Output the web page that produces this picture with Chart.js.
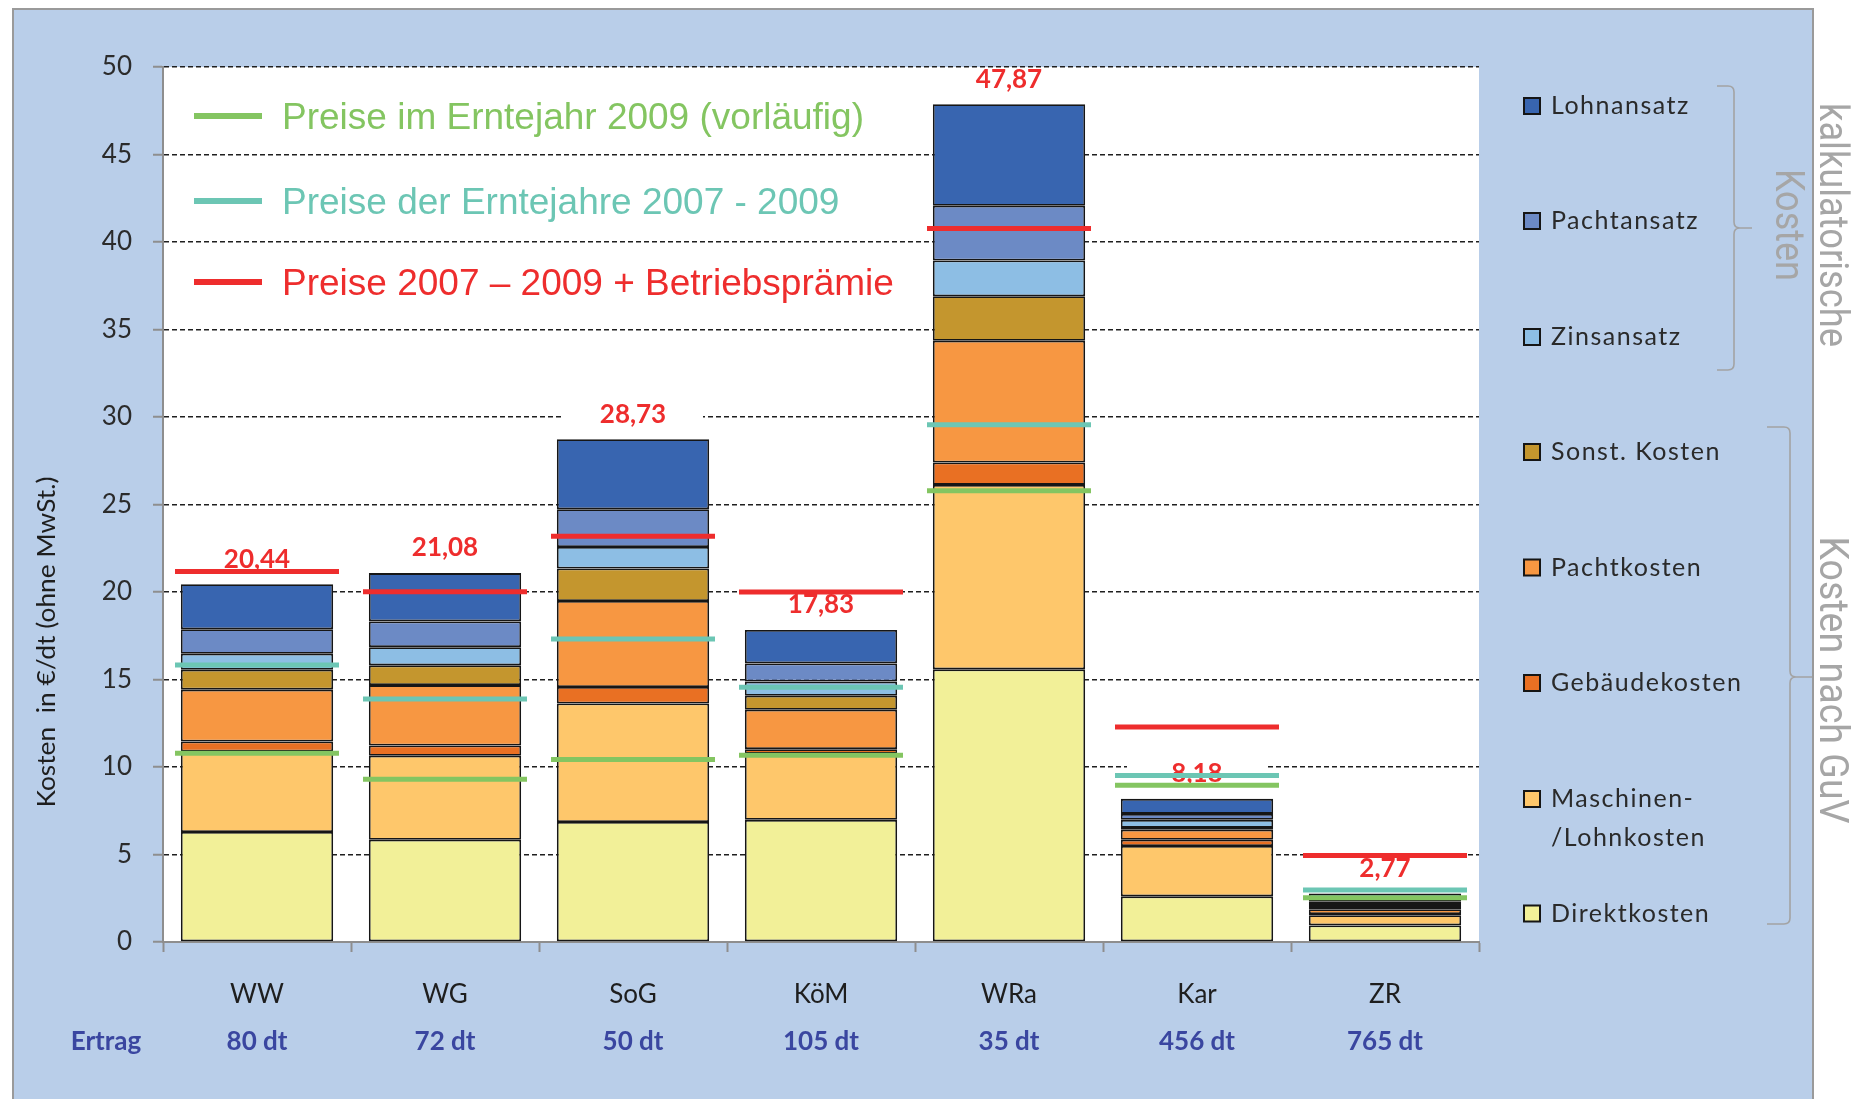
<!DOCTYPE html>
<html>
<head>
<meta charset="utf-8">
<script src="https://cdn.jsdelivr.net/npm/chart.js@4.4.1/dist/chart.umd.min.js"></script>
<style>
html,body{margin:0;padding:0;background:#fff;}
canvas{display:block;}
</style>
</head>
<body>
<canvas id="c" width="1858" height="1099"></canvas>
<script>
// ---------- data ----------
const categories = ['WW', 'WG', 'SoG', 'KöM', 'WRa', 'Kar', 'ZR'];
const ertrag = ['80 dt', '72 dt', '50 dt', '105 dt', '35 dt', '456 dt', '765 dt'];
const ertragTitle = 'Ertrag';

const seriesNames = ['Direktkosten', 'Maschinen-/Lohnkosten', 'Gebäudekosten', 'Pachtkosten',
                     'Sonst. Kosten', 'Zinsansatz', 'Pachtansatz', 'Lohnansatz'];
const direktkosten        = [6.29, 5.84, 6.86, 6.98, 15.58, 2.61, 0.95];
const maschinenLohnkosten = [4.60, 4.80, 6.77, 3.77, 10.54, 2.88, 0.58];
const gebaeudekosten      = [0.57, 0.59, 0.94, 0.27, 1.28, 0.35, 0.07];
const pachtkosten         = [2.96, 3.45, 4.92, 2.25, 6.96, 0.58, 0.27];
const sonstKosten         = [1.14, 1.13, 1.85, 0.80, 2.54, 0.10, 0.19];
const zinsansatz          = [0.91, 1.04, 1.23, 0.81, 2.04, 0.46, 0.17];
const pachtansatz         = [1.40, 1.47, 2.16, 1.04, 3.13, 0.34, 0.10];
const lohnansatz          = [2.57, 2.76, 4.00, 1.91, 5.80, 0.86, 0.44];
const totals              = [20.44, 21.08, 28.73, 17.83, 47.87, 8.18, 2.77];

const priceNames = ['Preise im Erntejahr 2009 (vorläufig)',
                    'Preise der Erntejahre 2007 - 2009',
                    'Preise 2007 – 2009 + Betriebsprämie'];
const preise2009         = [10.79, 9.30, 10.43, 10.67, 25.78, 8.96, 2.53];
const preise2007bis2009  = [15.83, 13.88, 17.31, 14.56, 29.56, 9.51, 2.97];
const preisePlusPraemie  = [21.17, 20.02, 23.19, 20.00, 40.77, 12.28, 4.95];

const yMin = 0, yMax = 50, yStep = 5;
const yTitle = 'Kosten  in €/dt (ohne MwSt.)';
const groupKalk = ['kalkulatorische', 'Kosten'];
const groupGuV = 'Kosten nach GuV';

// ---------- styles ----------
const FONT = 'Lato, "Open Sans", "DejaVu Sans", sans-serif';
const ARIAL = '"Liberation Sans", Arial, sans-serif';
const barColors = ['#f2f098', '#fec76b', '#e97023', '#f79742', '#c4962e', '#8dbee4', '#6c8ac5', '#3865b0'];
const priceColors = ['#84c561', '#6cc6b4', '#ee2d2d'];
const PANEL = '#b9cee9';
const AXISGRAY = '#8e8e8e';
const ERTRAG_COLOR = '#3a46a0';

const barData = [direktkosten, maschinenLohnkosten, gebaeudekosten, pachtkosten,
                 sonstKosten, zinsansatz, pachtansatz, lohnansatz];
const priceData = [preise2009, preise2007bis2009, preisePlusPraemie];

const datasets = barData.map((d, i) => ({
  type: 'bar', label: seriesNames[i], data: d,
  backgroundColor: barColors[i], borderColor: '#161616', borderWidth: 1.8,
  borderSkipped: false, stack: 'kosten', order: 1,
  barPercentage: 1, categoryPercentage: 0.81
}));
priceData.forEach((d, i) => datasets.push({
  type: 'line', label: priceNames[i], data: d, showLine: false,
  pointStyle: 'line', pointRadius: 82, pointHoverRadius: 82,
  pointBorderWidth: 5, pointHoverBorderWidth: 5,
  pointBorderColor: priceColors[i], pointBackgroundColor: priceColors[i],
  borderColor: priceColors[i], backgroundColor: priceColors[i],
  stack: 'preis' + i, order: -1 - i
}));

function setSpacing(ctx, v) { if ('letterSpacing' in ctx) ctx.letterSpacing = v; }

function fitText(ctx, text, cx, cy, angle, font, color, targetLen) {
  ctx.save();
  ctx.font = font;
  ctx.fillStyle = color;
  ctx.textAlign = 'center';
  ctx.textBaseline = 'middle';
  const w = ctx.measureText(text).width;
  ctx.translate(cx, cy);
  ctx.rotate(angle);
  ctx.scale(targetLen / w, 1);
  ctx.fillText(text, 0, 0);
  ctx.restore();
}

const decor = {
  id: 'decor',
  beforeDraw(chart) {
    const {ctx, chartArea: a, width, height} = chart;
    ctx.save();
    ctx.fillStyle = '#ffffff';
    ctx.fillRect(0, 0, width, height);
    ctx.fillStyle = PANEL;
    ctx.fillRect(13, 9, 1800, height);
    ctx.strokeStyle = '#9a9a9a';
    ctx.lineWidth = 2;
    ctx.strokeRect(13, 9, 1800, height + 20);
    ctx.fillStyle = '#ffffff';
    ctx.fillRect(a.left, a.top, a.right - a.left, a.bottom - a.top);
    ctx.restore();
  },
  beforeDatasetsDraw(chart) {
    const {ctx} = chart;
    const xs = chart.scales.x, ys = chart.scales.y;
    ctx.save();
    ctx.font = 'bold 26px ' + FONT;
    ctx.textAlign = 'center';
    ctx.textBaseline = 'middle';
    totals.forEach((t, i) => {
      const x = xs.getPixelForValue(i);
      const y = ys.getPixelForValue(t) - 25;
      ctx.fillStyle = '#ffffff';
      ctx.fillRect(x - 70, y - 11, 140, 22);
      ctx.fillStyle = '#ee2d2d';
      ctx.fillText(t.toFixed(2).replace('.', ','), x, y);
    });
    ctx.restore();
  },
  afterDraw(chart) {
    const {ctx} = chart;
    const ds = chart.data.datasets;
    ctx.save();

    // price legend inside plot area
    const priceSets = ds.filter(d => d.type === 'line');
    const rowsY = [116, 201, 282];
    ctx.font = '37px ' + ARIAL;
    ctx.textAlign = 'left';
    ctx.textBaseline = 'alphabetic';
    priceSets.forEach((d, i) => {
      const y = rowsY[i];
      ctx.strokeStyle = d.borderColor;
      ctx.lineWidth = 6;
      ctx.beginPath();
      ctx.moveTo(194, y);
      ctx.lineTo(262, y);
      ctx.stroke();
      ctx.fillStyle = d.borderColor;
      ctx.fillText(d.label, 282, y + 13);
    });

    // right legend (cost components, top of stack first)
    const barSets = ds.filter(d => d.type === 'bar').slice().reverse();
    const legY = [106, 221, 337, 452, 567.5, 683, 799, 913.5];
    ctx.font = '25px ' + FONT;
    setSpacing(ctx, '1.5px');
    ctx.textBaseline = 'middle';
    barSets.forEach((d, i) => {
      const y = legY[i];
      ctx.fillStyle = d.backgroundColor;
      ctx.fillRect(1524, y - 8, 16, 16);
      ctx.strokeStyle = '#151515';
      ctx.lineWidth = 2;
      ctx.strokeRect(1524, y - 8, 16, 16);
      ctx.fillStyle = '#2a2a2a';
      const parts = d.label.includes('-/') ? [d.label.split('-/')[0] + '-', '/' + d.label.split('-/')[1]] : [d.label];
      parts.forEach((p, k) => ctx.fillText(p, 1551, y + k * 39));
    });
    setSpacing(ctx, '0px');

    // braces
    ctx.strokeStyle = '#a3a3a3';
    ctx.lineWidth = 1.6;
    function brace(x0, xv, xt, yt, ym, yb) {
      ctx.beginPath();
      ctx.moveTo(x0, yt);
      ctx.lineTo(xv - 6, yt);
      ctx.quadraticCurveTo(xv, yt, xv, yt + 6);
      ctx.lineTo(xv, ym - 6);
      ctx.quadraticCurveTo(xv, ym, xv + 6, ym);
      ctx.lineTo(xt, ym);
      ctx.moveTo(xv + 6, ym);
      ctx.quadraticCurveTo(xv, ym, xv, ym + 6);
      ctx.lineTo(xv, yb - 6);
      ctx.quadraticCurveTo(xv, yb, xv - 6, yb);
      ctx.lineTo(x0, yb);
      ctx.stroke();
    }
    brace(1717, 1734, 1752, 86, 228, 370);
    brace(1767, 1790, 1812, 427, 677, 924);

    // rotated group labels
    const gfont = '40px Roboto, "Liberation Sans", sans-serif';
    fitText(ctx, groupKalk[0], 1830, 225, Math.PI / 2, gfont, '#a6a6a6', 244);
    fitText(ctx, groupKalk[1], 1786, 225, Math.PI / 2, gfont, '#a6a6a6', 112);
    fitText(ctx, groupGuV, 1830, 680, Math.PI / 2, gfont, '#a6a6a6', 287);

    // y axis title
    fitText(ctx, yTitle, 47, 642, -Math.PI / 2, '25px ' + FONT, '#1e1e1e', 331);

    // Ertrag row title
    ctx.font = 'bold 26px ' + FONT;
    ctx.fillStyle = ERTRAG_COLOR;
    ctx.textAlign = 'center';
    ctx.textBaseline = 'middle';
    ctx.fillText(ertragTitle, 106, 1042);

    ctx.restore();
  }
};

new Chart(document.getElementById('c'), {
  data: { labels: categories, datasets },
  options: {
    responsive: false,
    animation: false,
    events: [],
    layout: { autoPadding: false, padding: { top: 67, right: 379, left: 0, bottom: 0 } },
    plugins: { legend: { display: false }, tooltip: { enabled: false } },
    scales: {
      x: {
        type: 'category', stacked: true, offset: true, weight: 0,
        grid: { display: true, drawOnChartArea: false, drawTicks: true, tickLength: 10,
                tickColor: AXISGRAY, tickWidth: 2, offset: true },
        border: { display: true, color: AXISGRAY, width: 2 },
        ticks: { font: { family: FONT, size: 26 }, color: '#1e1e1e', padding: 27.5,
                 autoSkip: false, maxRotation: 0 },
        afterFit(s) { s.height = 70; }
      },
      x2: {
        type: 'category', labels: ertrag, position: 'bottom', offset: true, weight: 1,
        grid: { display: false, drawTicks: false, tickLength: 0 },
        border: { display: false },
        ticks: { font: { family: FONT, size: 26, weight: 'bold' }, color: ERTRAG_COLOR,
                 padding: 14.5, autoSkip: false, maxRotation: 0 },
        afterFit(s) { s.height = 87; }
      },
      y: {
        stacked: true, min: yMin, max: yMax,
        ticks: { stepSize: yStep, font: { family: FONT, size: 26 }, color: '#2b2b2b', padding: 21 },
        grid: { color: c => (c.tick && c.tick.value === 0) ? 'rgba(0,0,0,0)' : '#1f1f1f',
                lineWidth: 1.5, tickColor: AXISGRAY, tickLength: 10, tickWidth: 2, tickBorderDash: [] },
        border: { display: true, color: AXISGRAY, width: 2, dash: [5, 3] },
        afterFit(s) { s.width = 163; }
      }
    }
  },
  plugins: [decor]
});
</script>
</body>
</html>
